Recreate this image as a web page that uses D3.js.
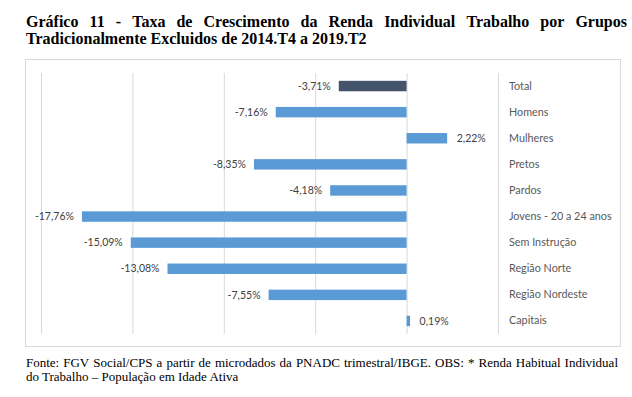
<!DOCTYPE html>
<html>
<head>
<meta charset="utf-8">
<script src="https://cdn.jsdelivr.net/npm/d3@7"></script>
<style>
  body { margin: 0; background: #fff; }
</style>
</head>
<body>
<svg width="632" height="397"></svg>
<script>
const categories = ["Total", "Homens", "Mulheres", "Pretos", "Pardos", "Jovens - 20 a 24 anos",
  "Sem Instrução", "Região Norte", "Região Nordeste", "Capitais"];
const values = [-3.71, -7.16, 2.22, -8.35, -4.18, -17.76, -15.09, -13.08, -7.55, 0.19];
const tickValues = [-20, -15, -10, -5, 0, 5];
const titleLines = [
  "Gráfico 11 - Taxa de Crescimento da Renda Individual Trabalho por Grupos",
  "Tradicionalmente Excluidos de 2014.T4 a 2019.T2"
];
const footLines = [
  "Fonte: FGV Social/CPS a partir de microdados da PNADC trimestral/IBGE. OBS: * Renda Habitual Individual",
  "do Trabalho – População em Idade Ativa"
];

const svg = d3.select("svg");
const serif = "'Liberation Serif', 'Times New Roman', serif";
const sans = "Lato, 'Open Sans', sans-serif";

// lay words out across a given width, like a justified paragraph line
function justifyLine(x, y, width, str, attrs) {
  const g = svg.append("g");
  const words = str.split(" ");
  const nodes = words.map(w => {
    const t = g.append("text").attr("y", y).text(w);
    Object.entries(attrs).forEach(([k, v]) => t.attr(k, v));
    return t;
  });
  const widths = nodes.map(t => t.node().getComputedTextLength());
  const gap = (width - d3.sum(widths)) / (words.length - 1);
  let cx = x;
  nodes.forEach((t, i) => {
    t.attr("x", cx);
    cx += widths[i] + gap;
  });
}

const titleStyle = {"font-family": serif, "font-size": "16px", "font-weight": "bold", "fill": "#000"};
justifyLine(26, 27, 601, titleLines[0], titleStyle);
const t2 = svg.append("text").attr("x", 26).attr("y", 43.5).text(titleLines[1]);
Object.entries(titleStyle).forEach(([k, v]) => t2.attr(k, v));

// chart frame
svg.append("rect")
  .attr("x", 25.5).attr("y", 59.5)
  .attr("width", 595).attr("height", 287)
  .attr("fill", "#fff")
  .attr("stroke", "#d9d9d9");

const plotTop = 73, plotBottom = 334;

const x = d3.scaleLinear().domain([-20, 5]).range([41, 498]);
const y = d3.scaleBand().domain(categories).range([plotTop, plotBottom])
  .paddingInner(0.6).paddingOuter(0.3);

// vertical gridlines
svg.append("g")
  .attr("transform", `translate(0,${plotTop})`)
  .call(d3.axisBottom(x).tickValues(tickValues).tickSize(plotBottom - plotTop).tickFormat(""))
  .call(g => g.select(".domain").remove())
  .call(g => g.selectAll(".tick line").attr("stroke", "#d9d9d9"));

// bars
svg.append("g")
  .selectAll("rect")
  .data(values)
  .join("rect")
  .attr("x", d => x(Math.min(0, d)))
  .attr("y", (d, i) => y(categories[i]))
  .attr("width", d => Math.abs(x(d) - x(0)))
  .attr("height", y.bandwidth())
  .attr("fill", (d, i) => i === 0 ? "#44546a" : "#5b9bd5");

// value labels
svg.append("g")
  .selectAll("text")
  .data(values)
  .join("text")
  .attr("x", d => d < 0 ? x(d) - 8 : x(d) + 9.5)
  .attr("y", (d, i) => y(categories[i]) + y.bandwidth() / 2)
  .attr("dy", "0.35em")
  .attr("text-anchor", d => d < 0 ? "end" : "start")
  .attr("font-family", sans)
  .attr("font-size", "10.5px")
  .attr("fill", "#404040")
  .text(d => d3.format(".2f")(d).replace(".", ",").replace("−", "-") + "%");

// category axis on the right
svg.append("g")
  .attr("transform", `translate(${x(5)},0)`)
  .call(d3.axisRight(y).tickSize(0).tickPadding(11))
  .call(g => g.select(".domain").remove())
  .call(g => g.selectAll("text")
    .attr("font-family", sans)
    .attr("font-size", "10.8px")
    .attr("fill", "#595959"));

const footStyle = {"font-family": serif, "font-size": "13px", "fill": "#000"};
justifyLine(26, 366.5, 592, footLines[0], footStyle);
const f2 = svg.append("text").attr("x", 26).attr("y", 380.5).text(footLines[1]);
Object.entries(footStyle).forEach(([k, v]) => f2.attr(k, v));
</script>
</body>
</html>
